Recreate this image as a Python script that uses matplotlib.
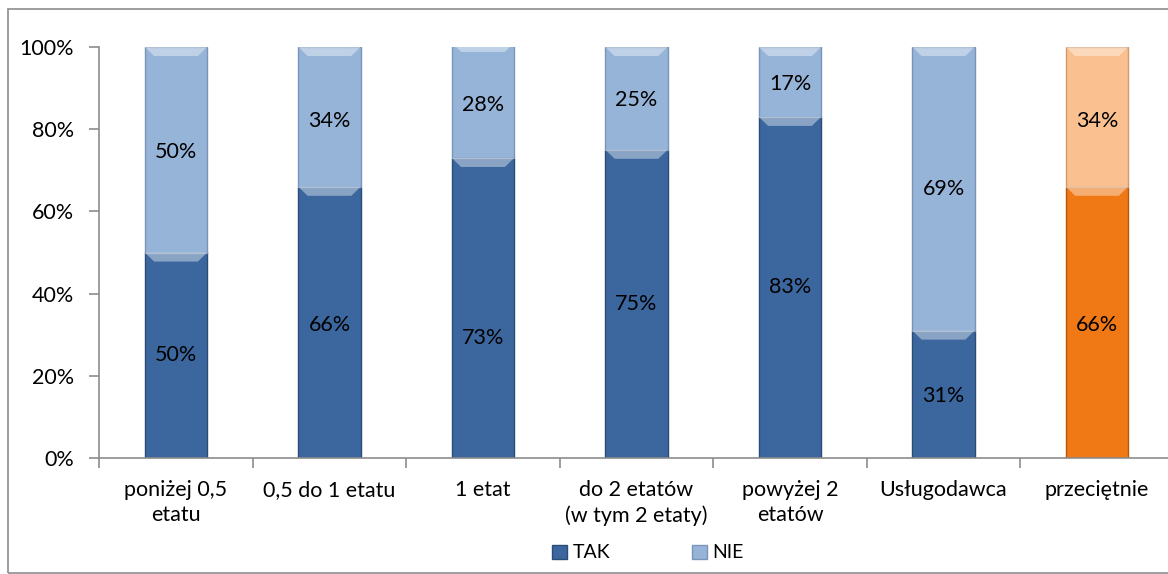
import numpy as np
import matplotlib.pyplot as plt
from matplotlib.patches import Rectangle, Polygon

plt.rcParams['font.family'] = ['Lato', 'DejaVu Sans']

kategorie = ['poniżej 0,5\netatu', '0,5 do 1 etatu', '1 etat', 'do 2 etatów\n(w tym 2 etaty)',
             'powyżej 2\netatów', 'Usługodawca', 'przeciętnie']
tak = [50, 66, 73, 75, 83, 31, 66]
nie = [50, 34, 28, 25, 17, 69, 34]

kol_tak = ['#3c679e'] * 6 + ['#f07815']
kol_nie = ['#96b3d8'] * 6 + ['#fbc08f']
kraw_tak = ['#2b4c77'] * 6 + ['#b3580e']
kraw_nie = ['#7a95b8'] * 6 + ['#cf9a6e']

# gdzie stoją etykiety w słupku (ułamek wysokości segmentu)
poz_tak = [0.50, 0.49, 0.40, 0.50, 0.50, 0.49, 0.49]
poz_nie = [0.49, 0.47, 0.46, 0.48, 0.47, 0.50, 0.47]

fig = plt.figure(figsize=(11.68, 5.74), dpi=100)
fig.patches.append(Rectangle((8 / 1168, 1 - 573 / 574), 1.2, 564 / 574, transform=fig.transFigure,
                             fill=False, edgecolor='#8c8c8c', lw=1.2))
ax = fig.add_axes([99.25 / 1168, 1 - 458 / 574, 1074.5 / 1168, 411 / 574])

x = np.arange(len(kategorie))
w = 0.405
b1 = ax.bar(x, tak, w, color=kol_tak, edgecolor=kraw_tak, lw=1)
b2 = ax.bar(x, nie, w, bottom=tak, color=kol_nie, edgecolor=kraw_nie, lw=1)


def bevel(rect, c):
    # jasny pasek u góry słupka
    x0, y0 = rect.get_x(), rect.get_y()
    ww, hh = rect.get_width(), rect.get_height()
    d = 0.06
    dh = 2.2
    ax.add_patch(Polygon([[x0, y0 + hh], [x0 + ww, y0 + hh], [x0 + ww - d, y0 + hh - dh], [x0 + d, y0 + hh - dh]],
                         closed=True, color=c, alpha=0.4, lw=0, zorder=3))


for r in list(b1) + list(b2):
    bevel(r, 'white')

for i in range(len(kategorie)):
    ax.text(x[i], tak[i] * poz_tak[i], f'{tak[i]}%', ha='center', va='center', fontsize=15.5)
    ax.text(x[i], tak[i] + nie[i] * poz_nie[i], f'{nie[i]}%', ha='center', va='center', fontsize=15.5)

ax.set_xlim(-0.5, len(kategorie) - 0.5)
ax.set_ylim(0, 100)
ax.set_yticks(np.arange(0, 101, 20))
ax.set_yticklabels([f'{v}%' for v in range(0, 101, 20)], fontsize=15.5)
ax.set_xticks(x)
ax.set_xticklabels(kategorie, fontsize=15.5, linespacing=1.3)
ax.set_xticks(np.arange(-0.5, len(kategorie), 1), minor=True)
ax.tick_params(axis='x', which='major', length=0, pad=16)
ax.tick_params(axis='x', which='minor', length=7, color='#8c8c8c', width=1.2)
ax.tick_params(axis='y', length=7, color='#8c8c8c', width=1.2, pad=11)
for s in ['top', 'right']:
    ax.spines[s].set_visible(False)
ax.spines['left'].set_color('#8c8c8c')
ax.spines['bottom'].set_color('#8c8c8c')
ax.spines['left'].set_linewidth(1.2)
ax.spines['bottom'].set_linewidth(1.2)

ax.legend([b1[0], b2[0]], ['TAK', 'NIE'], loc='center', bbox_to_anchor=(648 / 1168, 1 - 553 / 574),
          bbox_transform=fig.transFigure, ncol=2, frameon=False, fontsize=14, handlelength=0.75,
          handleheight=0.75, columnspacing=4.2, handletextpad=0.3)

fig.savefig('out.png', dpi=100)
